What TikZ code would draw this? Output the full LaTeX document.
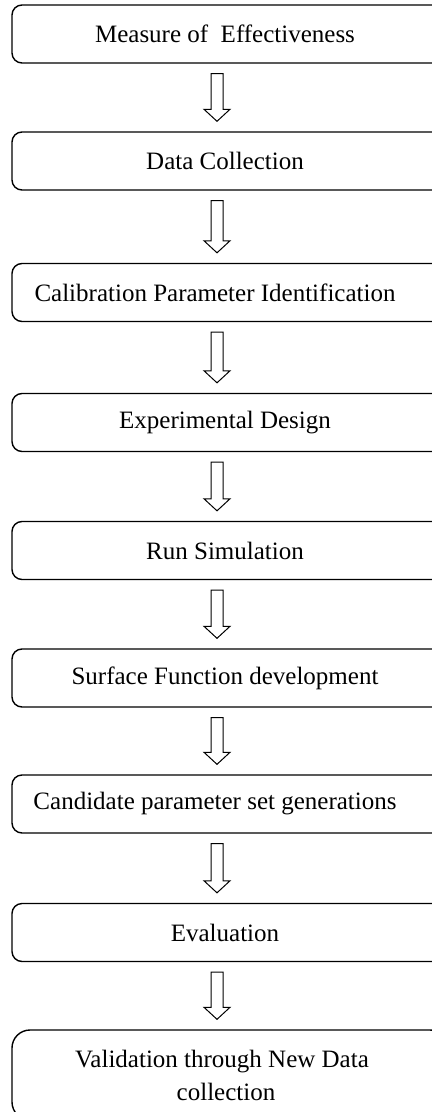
\documentclass[tikz,border=0pt]{standalone}
\usepackage{fontspec}
\setmainfont{Liberation Serif}
\usetikzlibrary{calc}

\tikzset{
	stepbox/.style={draw, line width=0.7pt, rounded corners=5pt, minimum width=218pt, minimum height=29pt, inner sep=0pt, font=\fontsize{12.5}{16.5}\selectfont, execute at end node={\hspace*{#1}}},
	stepbox/.default=5pt,
	flowline/.style={line width=0.5pt, line join=miter}
}

%Blockpfeil von Kasten #1 nach Kasten #2
\newcommand{\flowarrow}[2]{%
	\draw[flowline] ($(#1.south)+(-19,10)$) -- ($(#1.south)+(-7,10)$) -- ($(#2.north)+(-7,-22)$) -- ($(#2.north)+(0,-22)$) -- ($(#2.north)+(-13,-10)$) -- ($(#2.north)+(-26,-22)$) -- ($(#2.north)+(-19,-22)$) -- cycle;
}

\begin{document}
\begin{tikzpicture}[x=0.5pt,y=-0.5pt]
	
	\useasboundingbox (0,0) rectangle (432,1112);
	
	%Kaesten
	\node[stepbox] (moe) at (230,34) {Measure of~ Effectiveness};
	\node[stepbox] (data) at (230,161) {Data Collection};
	\node[stepbox=15pt] (calib) at (230,292.5) {Calibration Parameter Identification};
	\node[stepbox] (design) at (230,422.5) {Experimental Design};
	\node[stepbox] (sim) at (230,550.5) {Run Simulation};
	\node[stepbox] (surface) at (230,678) {Surface Function development};
	\node[stepbox=15pt] (cand) at (230,804) {Candidate parameter set generations};
	\node[stepbox] (eval) at (230,932.5) {Evaluation};
	\node[stepbox=4pt, minimum height=45pt, rounded corners=9pt, align=center] (valid) at (230,1075) {Validation through New Data\hspace*{4pt}\\collection}; %letzter Kasten
	
	%Pfeile
	\foreach \a/\b in {moe/data, data/calib, calib/design, design/sim, sim/surface, surface/cand, cand/eval, eval/valid}
		\flowarrow{\a}{\b};
	
\end{tikzpicture}
\end{document}
